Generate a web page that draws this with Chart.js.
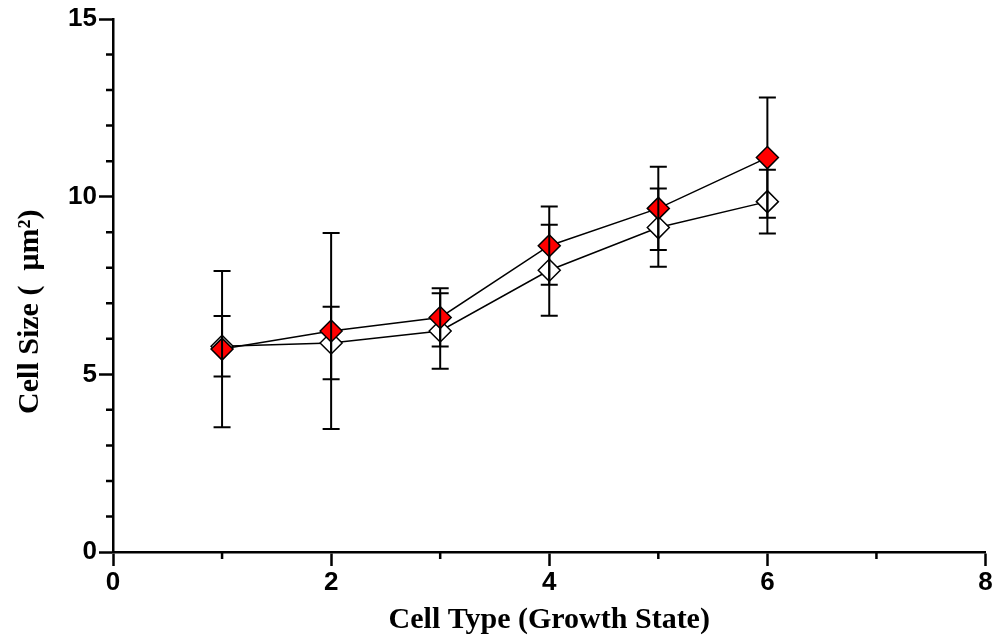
<!DOCTYPE html>
<html>
<head>
<meta charset="utf-8">
<script src="https://cdn.jsdelivr.net/npm/chart.js@4.4.1/dist/chart.umd.min.js"></script>
<style>
  html, body { margin: 0; padding: 0; background: #fff; }
  #wrap { width: 998px; height: 639px; }
</style>
</head>
<body>
<div id="wrap"><canvas id="sizeChart" width="998" height="639"></canvas></div>
<script>
// growth state of each cell type
const cellType = [1, 2, 3, 4, 5, 6];

// filled (red) series: mean cell size and SD, um^2
const filledMean = [5.71, 6.22, 6.60, 8.62, 9.67, 11.10];
const filledSd = [2.20, 2.76, 0.82, 1.10, 1.17, 1.69];

// open (white) series: mean cell size and SD, um^2
const openMean = [5.79, 5.88, 6.22, 7.93, 9.13, 9.86];
const openSd = [0.85, 1.02, 1.06, 1.28, 1.10, 0.90];

const xTicks = [0, 2, 4, 6, 8];
const yTicks = [0, 5, 10, 15];
const xMinor = [1, 3, 5, 7];
const yMinor = [1, 2, 3, 4, 6, 7, 8, 9, 11, 12, 13, 14];

const toPoints = (xs, ys) => xs.map((x, i) => ({ x: x, y: ys[i] }));

const AXIS_W = 2.5;

function drawErrorBars(chart, index, sds) {
    const ctx = chart.ctx;
    const xs = chart.scales.x;
    const ys = chart.scales.y;
    const pts = chart.data.datasets[index].data;
    ctx.save();
    ctx.strokeStyle = '#000';
    ctx.lineWidth = 2;
    pts.forEach((p, i) => {
        const px = xs.getPixelForValue(p.x);
        const top = ys.getPixelForValue(p.y + sds[i]);
        const bot = ys.getPixelForValue(p.y - sds[i]);
        ctx.beginPath();
        ctx.moveTo(px, top);
        ctx.lineTo(px, bot);
        ctx.moveTo(px - 8.5, top);
        ctx.lineTo(px + 8.5, top);
        ctx.moveTo(px - 8.5, bot);
        ctx.lineTo(px + 8.5, bot);
        ctx.stroke();
    });
    ctx.restore();
}

// error bars: the filled series' bars sit under its own markers,
// the open series' bars go on top of everything
const errorBars = {
    id: 'errorBars',
    beforeDatasetDraw(chart, args) {
        if (args.index === 0) drawErrorBars(chart, 0, filledSd);
    },
    afterDatasetsDraw(chart) {
        drawErrorBars(chart, 1, openSd);
    }
};

// short unlabelled ticks between the major ones
const minorTicks = {
    id: 'minorTicks',
    afterDraw(chart) {
        const ctx = chart.ctx;
        const xs = chart.scales.x;
        const ys = chart.scales.y;
        const area = chart.chartArea;
        ctx.save();
        ctx.strokeStyle = '#000';
        ctx.lineWidth = AXIS_W;
        ctx.beginPath();
        yMinor.forEach(v => {
            const py = ys.getPixelForValue(v);
            ctx.moveTo(area.left - 7, py);
            ctx.lineTo(area.left, py);
        });
        xMinor.forEach(v => {
            const px = xs.getPixelForValue(v);
            ctx.moveTo(px, area.bottom);
            ctx.lineTo(px, area.bottom + 7);
        });
        ctx.stroke();
        ctx.restore();
    }
};

const tickFont = { family: '"Liberation Sans", Arial, sans-serif', size: 26, weight: 'bold' };
const titleFont = { family: '"Liberation Serif", "Times New Roman", serif', size: 30, weight: 'bold' };

const ctx = document.getElementById('sizeChart').getContext('2d');

new Chart(ctx, {
    type: 'line',
    data: {
        datasets: [{
            label: 'filled',
            data: toPoints(cellType, filledMean),
            borderColor: '#000',
            borderWidth: 1.5,
            backgroundColor: '#ff0000',
            pointStyle: 'rectRot',
            pointRadius: 11,
            pointBorderWidth: 1.5,
            pointBorderColor: '#000',
            pointBackgroundColor: '#ff0000',
            tension: 0
        }, {
            label: 'open',
            data: toPoints(cellType, openMean),
            borderColor: '#000',
            borderWidth: 1.5,
            backgroundColor: '#fff',
            pointStyle: 'rectRot',
            pointRadius: 11,
            pointBorderWidth: 1.5,
            pointBorderColor: '#000',
            pointBackgroundColor: '#fff',
            tension: 0
        }]
    },
    options: {
        responsive: false,
        animation: false,
        devicePixelRatio: 1,
        layout: { padding: { top: 19, right: 12, left: 0, bottom: 0 } },
        plugins: {
            legend: { display: false },
            tooltip: { enabled: false }
        },
        scales: {
            x: {
                type: 'linear',
                min: 0,
                max: 8,
                afterFit: s => { s.height = 87; },
                afterBuildTicks: s => { s.ticks = xTicks.map(v => ({ value: v })); },
                ticks: { color: '#000', font: tickFont, padding: 1, maxRotation: 0 },
                grid: {
                    display: true,
                    drawOnChartArea: false,
                    drawTicks: true,
                    tickLength: 14,
                    tickWidth: AXIS_W,
                    tickColor: '#000'
                },
                border: { display: true, color: '#000', width: AXIS_W },
                title: {
                    display: true,
                    text: 'Cell Type (Growth State)',
                    color: '#000',
                    font: titleFont,
                    padding: { top: 0, bottom: 1 }
                }
            },
            y: {
                type: 'linear',
                min: 0,
                max: 15,
                afterFit: s => { s.width = 113; },
                afterBuildTicks: s => { s.ticks = yTicks.map(v => ({ value: v })); },
                ticks: { color: '#000', font: tickFont, padding: 2 },
                grid: {
                    display: true,
                    drawOnChartArea: false,
                    drawTicks: true,
                    tickLength: 14,
                    tickWidth: AXIS_W,
                    tickColor: '#000'
                },
                border: { display: true, color: '#000', width: AXIS_W },
                title: {
                    display: true,
                    // trailing spaces push the visible text down the axis
                    text: 'Cell Size (  μm²)       ',
                    color: '#000',
                    font: titleFont,
                    padding: { top: 12, bottom: 0 }
                }
            }
        }
    },
    plugins: [errorBars, minorTicks]
});
</script>
</body>
</html>
